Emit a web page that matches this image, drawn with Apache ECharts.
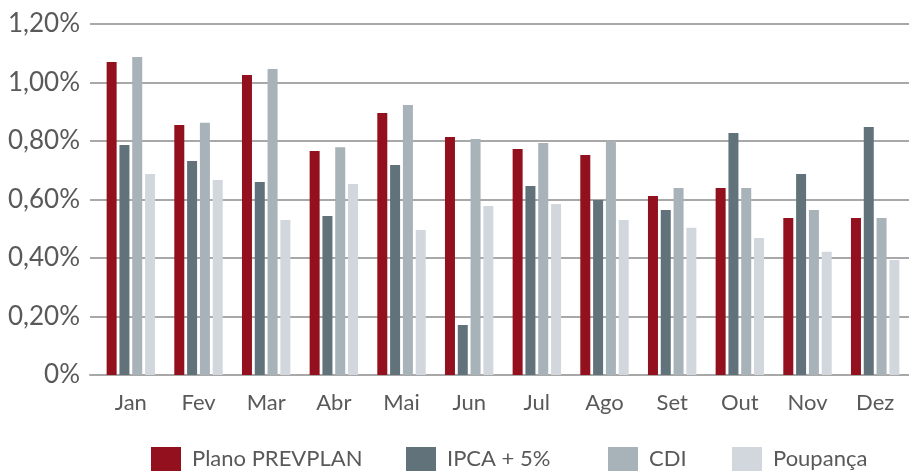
<!DOCTYPE html>
<html>
<head>
<meta charset="utf-8">
<script src="https://cdn.jsdelivr.net/npm/echarts@6/dist/echarts.min.js"></script>
<style>
  html, body { margin: 0; padding: 0; background: #fff; }
  #main { width: 909px; height: 471px; }
</style>
</head>
<body>
<div id="main"></div>
<script>
// dados
const meses = ['Jan', 'Fev', 'Mar', 'Abr', 'Mai', 'Jun', 'Jul', 'Ago', 'Set', 'Out', 'Nov', 'Dez']
const prevplan = [1.07, 0.855, 1.026, 0.766, 0.896, 0.814, 0.773, 0.752, 0.612, 0.639, 0.537, 0.537]
const ipca5 = [0.786, 0.732, 0.66, 0.544, 0.718, 0.171, 0.646, 0.598, 0.564, 0.827, 0.687, 0.848]
const cdi = [1.087, 0.862, 1.046, 0.779, 0.923, 0.807, 0.793, 0.8, 0.639, 0.639, 0.564, 0.537]
const poupanca = [0.687, 0.667, 0.53, 0.653, 0.496, 0.578, 0.585, 0.53, 0.503, 0.468, 0.421, 0.393]

const nomes = ['Plano PREVPLAN', 'IPCA + 5%', 'CDI', 'Poupança']
const cores = ['#93111f', '#62727b', '#a7b2b9', '#d2d6dd']

const fonte = 'Lato, "Open Sans", sans-serif'
const corTexto = '#595959'

const chart = echarts.init(document.getElementById('main'))

function fmtPct(v) {
  if (v === 0) return '0%'
  return v.toFixed(2).replace('.', ',') + '%'
}

const legendLeft = [151, 406, 608, 732]

chart.setOption({
  animation: false,
  grid: [
    { left: 90, right: 0, top: 24, bottom: 96 },
    { left: 97, width: 825, top: 24, bottom: 96 }
  ],
  legend: nomes.map((n, i) => ({
    data: [n],
    left: legendLeft[i],
    top: 447,
    padding: 0,
    itemWidth: 30,
    itemHeight: 24,
    icon: 'rect',
    selectedMode: false,
    textStyle: { fontFamily: fonte, fontSize: 22, color: corTexto, padding: [0, 0, 0, 6] }
  })),
  xAxis: [
    {
      gridIndex: 0, type: 'category', data: meses,
      axisLine: { show: true, lineStyle: { color: '#a8a8a8', width: 2 } },
      axisTick: { show: false }, axisLabel: { show: false }
    },
    {
      gridIndex: 1, type: 'category', data: meses,
      axisLine: { show: false }, axisTick: { show: false },
      axisLabel: { fontFamily: fonte, fontSize: 22, color: corTexto, margin: 17 }
    }
  ],
  yAxis: [
    {
      gridIndex: 0, type: 'value', min: 0, max: 1.2, interval: 0.2,
      axisLine: { show: false }, axisTick: { show: false },
      splitLine: { lineStyle: { color: '#a8a8a8', width: 2 } },
      axisLabel: { fontFamily: fonte, fontSize: 26, color: corTexto, margin: 10, formatter: fmtPct }
    },
    {
      gridIndex: 1, type: 'value', min: 0, max: 1.2, interval: 0.2,
      show: false
    }
  ],
  series: [prevplan, ipca5, cdi, poupanca].map((d, i) => ({
    name: nomes[i],
    type: 'bar',
    xAxisIndex: 1,
    yAxisIndex: 1,
    data: d,
    barWidth: 10,
    barGap: '28%',
    itemStyle: { color: cores[i] }
  }))
})
</script>
</body>
</html>
